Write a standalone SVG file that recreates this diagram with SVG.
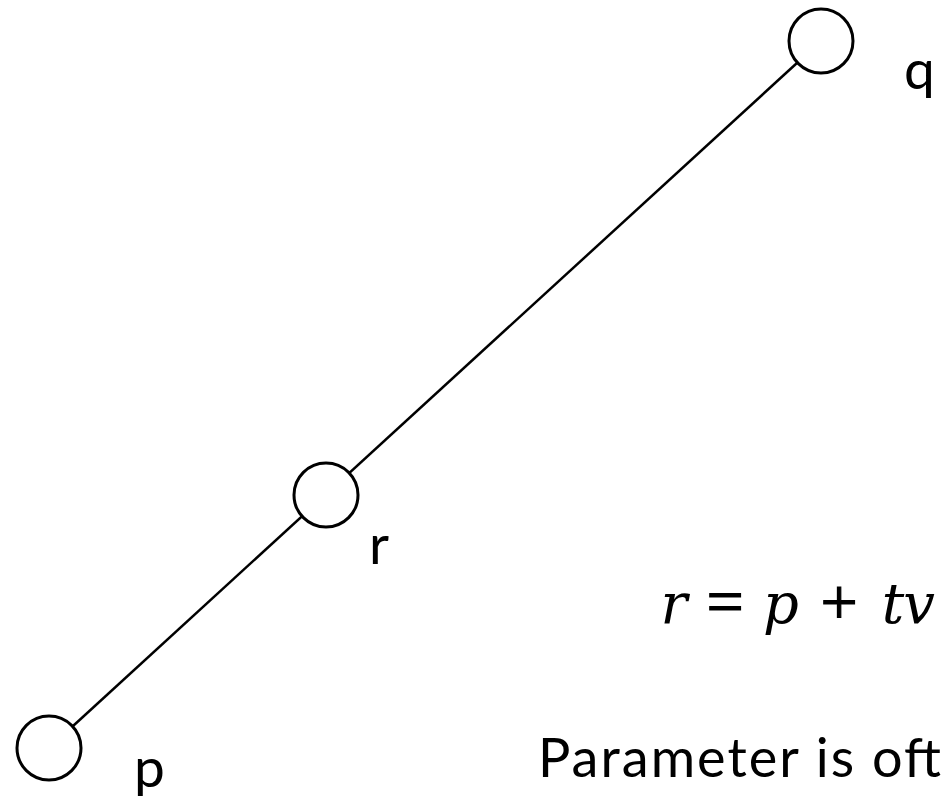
<svg xmlns="http://www.w3.org/2000/svg" width="948" height="803" viewBox="0 0 948 803">
<style>
.node{fill:#fff;stroke:#000;stroke-width:3}
.lbl{font-family:Lato,"Open Sans",sans-serif;font-size:55px;fill:#000}
.txt{font-family:Lato,"Open Sans",sans-serif;font-size:54px;fill:#000}
.math{font-family:"DejaVu Serif","Liberation Serif",serif;font-style:italic;font-size:56px;fill:#000;text-anchor:middle}
.op{font-family:"Liberation Serif","DejaVu Serif",serif;font-size:66px;fill:#000;stroke:#000;stroke-width:1.2;text-anchor:middle}
.edge{stroke:#000;stroke-width:2.5;fill:none}
</style>
<rect width="948" height="803" fill="#fff"/>
<g id="connectors">
<line class="edge" x1="49" y1="748" x2="821" y2="41"/>
</g>
<g id="node-q"><circle class="node" cx="821" cy="41" r="32"/><text class="lbl" x="904" y="89">q</text></g>
<g id="node-r"><circle class="node" cx="326" cy="495" r="32"/><text class="lbl" x="369" y="564">r</text></g>
<g id="node-p"><circle class="node" cx="49" cy="748" r="32"/><text class="lbl" x="134" y="787">p</text></g>
<g id="equation">
<text class="math" x="674" y="623">r</text>
<text class="op" x="725" y="624">=</text>
<text class="math" x="781" y="623">p</text>
<text class="op" x="839" y="624">+</text>
<text class="math" x="893" y="623">t</text>
<text class="math" x="919" y="623">v</text>
</g>
<text class="txt" x="538" y="777" textLength="403" lengthAdjust="spacing">Parameter is oft</text>
</svg>
